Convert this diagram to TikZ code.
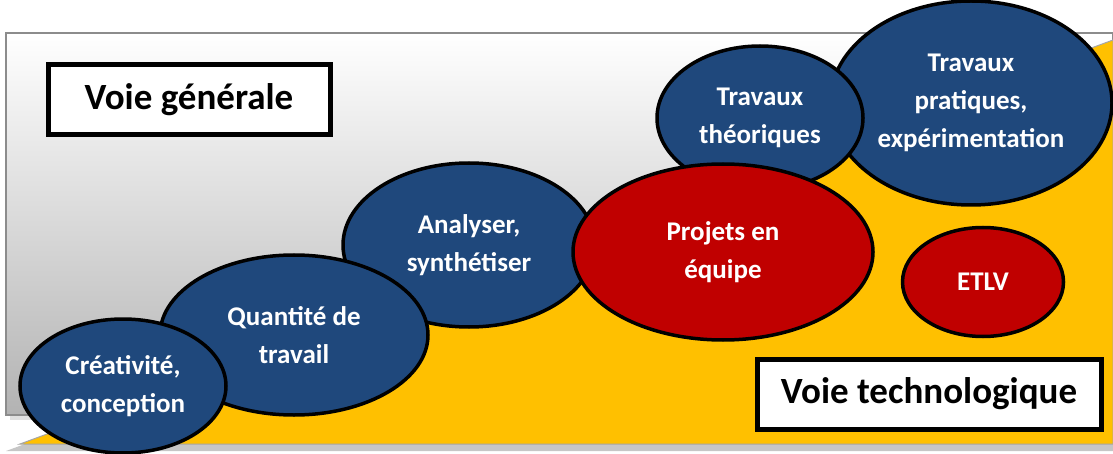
\documentclass[tikz,border=0pt]{standalone}
\usepackage{fontspec}
\setmainfont{Carlito}
\usetikzlibrary{shapes.geometric}
\definecolor{bleu}{HTML}{1F487C}
\definecolor{rougeF}{HTML}{C00000}
\definecolor{jaune}{HTML}{FFC000}
\tikzset{
    bulle/.style = {draw=black, ellipse, line width=3.5pt, inner sep=0pt,
        align=center, text=white,
        font=\bfseries\fontsize{27}{38}\selectfont},
    bleue/.style = {bulle, fill=bleu},
    rouge/.style = {bulle, fill=rougeF},
    titre/.style = {draw=black, fill=white, line width=5pt, inner sep=0pt,
        font=\bfseries\fontsize{37}{44}\selectfont}
}
\begin{document}
\begin{tikzpicture}[x=1pt, y=-1pt]
                \useasboundingbox (0,0) rectangle (1113,454);
                % fond gris et zone jaune
                \fill[gray!25] (10,38) rectangle (1113,420);
                \shade[top color=white, bottom color=gray!60, draw=gray!90, line width=2pt] (6,33) rectangle (1113,415);
                \fill[gray!45] (6,451) -- (1113,451) -- (1113,44) -- cycle;
                \filldraw[fill=jaune, draw=gray!70, line width=1pt] (20,444) -- (1113,444) -- (1113,40) -- cycle;
                % bulles
                \node[bleue, minimum width=282pt, minimum height=204pt] (pratiques) at (971,103) {Travaux\\pratiques,\\expérimentation};
                \node[bleue, minimum width=206pt, minimum height=144pt] (theoriques) at (760,118) {Travaux\\théoriques};
                \node[bleue, minimum width=252pt, minimum height=164pt] (analyser) at (469,245) {Analyser,\\synthétiser};
                \node[bleue, minimum width=268pt, minimum height=160pt] (quantite) at (294,335) {Quantité de\\travail};
                \node[bleue, minimum width=206pt, minimum height=134pt] (creativite) at (123,386) {Créativité,\\conception};
                \node[rouge, minimum width=300pt, minimum height=176pt] (projets) at (723,252) {Projets en\\équipe};
                \node[rouge, minimum width=161pt, minimum height=109pt] (etlv) at (983,282) {ETLV};
                % titres
                \node[titre, minimum width=282pt, minimum height=70pt] (generale) at (189,100) {Voie générale};
                \node[titre, minimum width=344pt, minimum height=70pt] (techno) at (929,394) {Voie technologique};
            \end{tikzpicture}
\end{document}
